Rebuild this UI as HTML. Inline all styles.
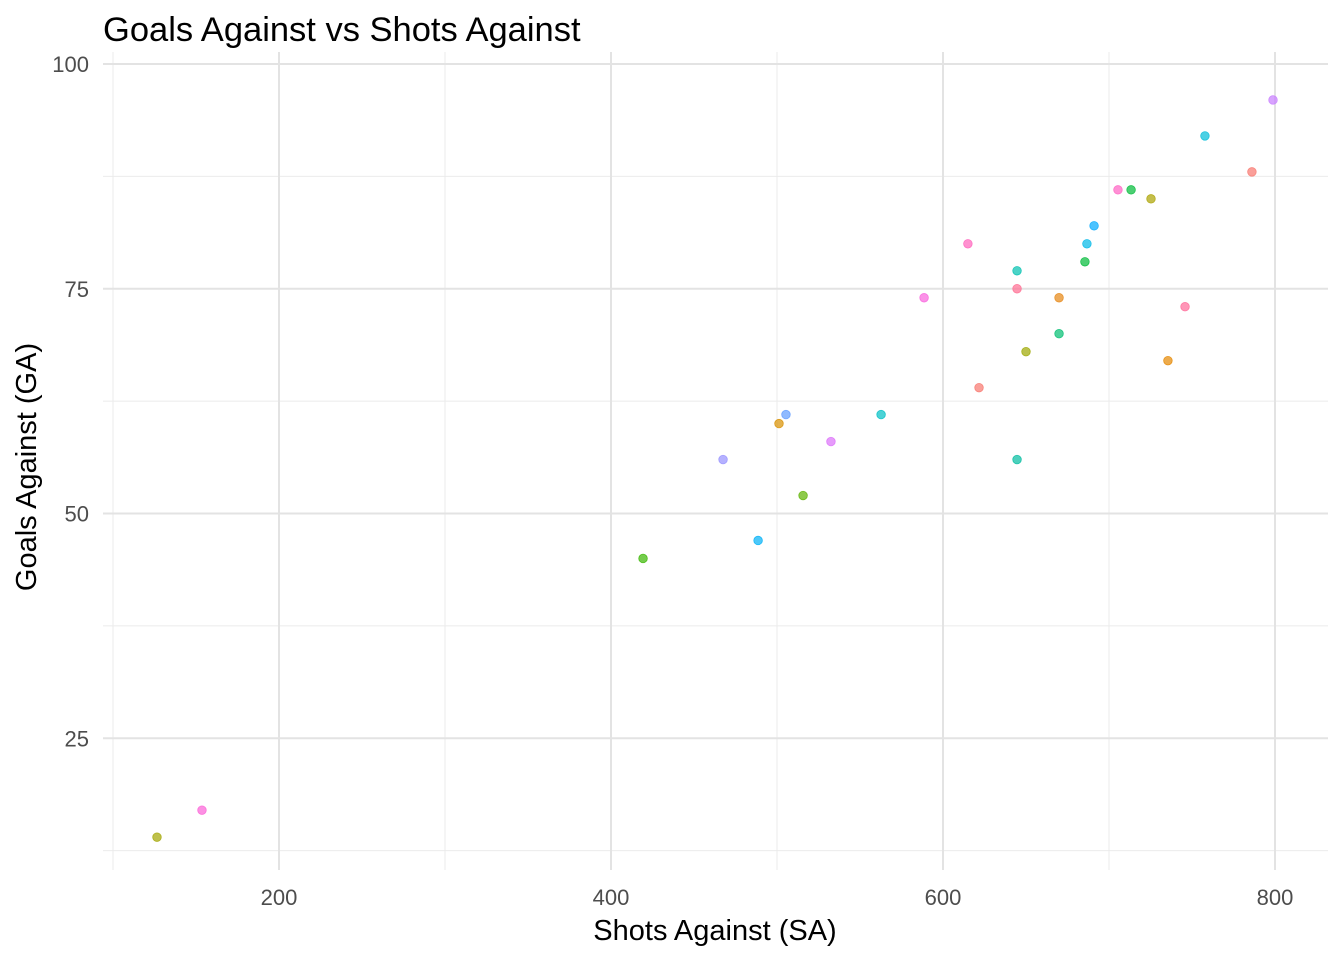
<!DOCTYPE html>
<html><head><meta charset="utf-8"><style>
body{margin:0;background:#fff;font-family:"Liberation Sans",Arial,sans-serif}
svg text{font-family:"Liberation Sans",Arial,sans-serif}
</style></head><body>
<svg id="chart" width="1344" height="960" xmlns="http://www.w3.org/2000/svg">
<text x="103" y="41" font-size="34.5" fill="#000">Goals Against vs Shots Against</text>
<g id="grid"></g>
<g id="points"></g>
<g id="ticks"></g>
<text x="715" y="940" font-size="29" text-anchor="middle" fill="#000">Shots Against (SA)</text>
<text transform="translate(36,467) rotate(-90)" font-size="29" text-anchor="middle" fill="#000">Goals Against (GA)</text>
</svg>
<script>
const xMajor=[200,400,600,800];
const xMinor=[100,300,500,700];
const yMajor=[25,50,75,100];
const yMinor=[12.5,37.5,62.5,87.5];
const shotsAgainst=[126.5,153.6,419.3,467.5,488.6,501.2,505.4,515.7,532.5,562.7,588.6,615,621.7,644.6,644.6,644.6,650,669.9,669.9,685.5,686.7,691,705.4,713.3,725.3,735.5,745.8,757.8,786.1,798.8];
const goalsAgainst=[14,17,45,56,47,60,61,52,58,61,74,80,64,77,75,56,68,74,70,78,80,82,86,86,85,67,73,92,88,96];
const colors=["#A3A500","#FB61D7","#39B600","#9590FF","#00B0F6","#D89000","#619CFF","#5EB300","#DC71FA","#00BFC4","#F962DD","#FF62BC","#F8766D","#00C0AF","#FF6C91","#00BC9F","#9CA700","#E68613","#00BE70","#00BA38","#00B8E7","#00A9FF","#FF61C3","#00BA38","#ABA300","#E58700","#FF6A98","#00BCD8","#F8766D","#C77CFF"];
const X0=103,X1=1328,Y0=52,Y1=870;
const sx=v=>279+(v-200)*1.66;
const sy=v=>64+(100-v)*8.99;
const NS="http://www.w3.org/2000/svg";
function mk(t,a,p){const e=document.createElementNS(NS,t);for(const k in a)e.setAttribute(k,a[k]);p.appendChild(e);return e;}
const grid=document.getElementById('grid'),ticks=document.getElementById('ticks'),pts=document.getElementById('points');
xMinor.forEach(v=>{const l=mk('line',{x1:sx(v),x2:sx(v),y1:Y0,y2:Y1,stroke:'#ebebeb','stroke-width':1},grid);

});
yMinor.forEach(v=>{const l=mk('line',{x1:X0,x2:X1,y1:sy(v),y2:sy(v),stroke:'#ebebeb','stroke-width':1},grid);

});
xMajor.forEach(v=>{const l=mk('line',{x1:sx(v),x2:sx(v),y1:Y0,y2:Y1,stroke:'#e3e3e3','stroke-width':2},grid);


const t=mk('text',{x:sx(v),y:905,'font-size':22,'text-anchor':'middle',fill:'#4d4d4d'},ticks);t.textContent=v;

});
yMajor.forEach(v=>{const l=mk('line',{x1:X0,x2:X1,y1:sy(v),y2:sy(v),stroke:'#e3e3e3','stroke-width':2},grid);


const t=mk('text',{x:89,y:sy(v)+8,'font-size':22,'text-anchor':'end',fill:'#4d4d4d'},ticks);t.textContent=v;

});
shotsAgainst.forEach((v,i)=>{const c=mk('circle',{cx:sx(v),cy:sy(goalsAgainst[i]),r:4.3,fill:colors[i%colors.length],'fill-opacity':0.7,stroke:colors[i%colors.length],'stroke-opacity':0.8,'stroke-width':0.8},pts);

});
</script>
</body></html>
